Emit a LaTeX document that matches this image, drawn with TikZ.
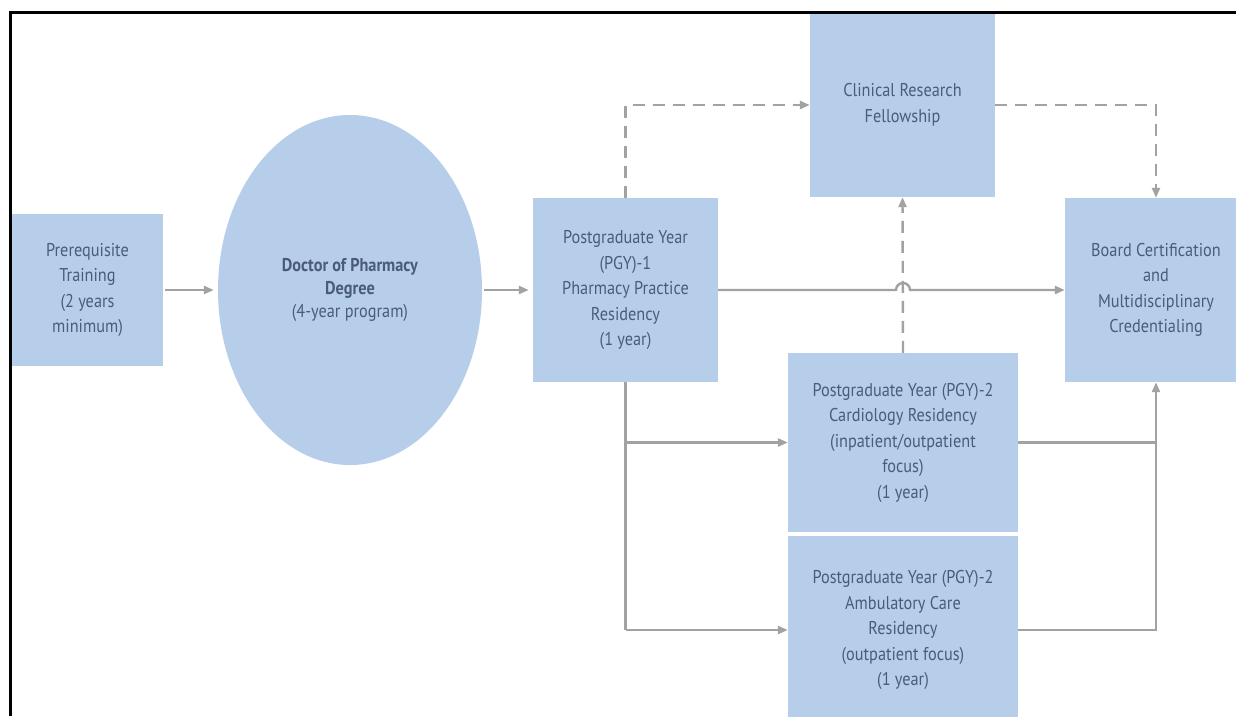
\documentclass[tikz,border=0pt]{standalone}
\usepackage{fontspec}
\setmainfont{PT Sans}[FakeStretch=0.88]
\usetikzlibrary{shapes.geometric,arrows.meta,calc}
\definecolor{boxfill}{HTML}{B7CEEA}
\definecolor{boxtext}{HTML}{4A5B7C}
\definecolor{linegray}{HTML}{A2A2A2}
\tikzset{
  x=1pt,y=-1pt,
  stage/.style={rectangle, fill=boxfill, text=boxtext, align=center, inner sep=0pt,
     font=\fontsize{18.5}{25.5}\selectfont},
  link/.style={draw=linegray, line width=2.4pt},
  arr/.style={link, -{Triangle[length=10pt,width=8pt]}},
  dashlink/.style={arr, dash pattern=on 12pt off 8pt},
}
\begin{document}
\begin{tikzpicture}
\path[use as bounding box, clip] (0,0) rectangle (1236,716);
\fill[white] (0,0) rectangle (1236,716);

\node[stage, minimum width=151pt, minimum height=152pt] (prereq) at (87.5,290)
  {Prerequisite\\Training\\(2 years\\minimum)};
\node[stage, ellipse, minimum width=264pt, minimum height=350pt, font=\fontsize{18.5}{23}\selectfont] (degree) at (350,290)
  {\textbf{Doctor of Pharmacy}\\\textbf{Degree}\\(4-year program)};
\node[stage, minimum width=185pt, minimum height=184pt] (pgy1) at (625.5,290)
  {Postgraduate Year\\(PGY)-1\\Pharmacy Practice\\Residency\\(1 year)};
\node[stage, minimum width=185pt, minimum height=184pt] (clin) at (902.5,105)
  {Clinical Research\\Fellowship};
\node[stage, minimum width=182pt, minimum height=184pt] (board) at (1156,290)
  {Board Certification\\and\\Multidisciplinary\\Credentialing};
\node[stage, minimum width=230pt, minimum height=179pt] (card) at (903,442.5)
  {Postgraduate Year (PGY)-2\\Cardiology Residency\\(inpatient/outpatient\\focus)\\(1 year)};
\node[stage, minimum width=230pt, minimum height=188pt] (amb) at (903,630)
  {Postgraduate Year (PGY)-2\\Ambulatory Care\\Residency\\(outpatient focus)\\(1 year)};

\draw[arr, shorten >=4pt, shorten <=2pt] (prereq.east) -- (degree.west);
\draw[arr, shorten >=4pt, shorten <=2pt] (degree.east) -- (pgy1.west);
\draw[dashlink] (pgy1.north) -- (pgy1.north |- clin.west) -- (clin.west);
\draw[dashlink] (clin.east) -| (board.north);
\draw[dashlink] (card.north) -- (clin.south);
\draw[arr] (pgy1.east) -- ($(card.north |- pgy1.east)+(-7,0)$) arc (180:360:7) -- (board.west);
\draw[link] (pgy1.south) -- (pgy1.south |- amb.west);
\draw[arr] (pgy1.south |- card.west) -- (card.west);
\draw[arr] (pgy1.south |- amb.west) -- (amb.west);
\draw[link] (card.east) -- (card.east -| board.south);
\draw[arr] (amb.east) -| (board.south);

\draw[black, line width=3pt] (10,716) -- (10,12) -- (1236,12);
\end{tikzpicture}
\end{document}
